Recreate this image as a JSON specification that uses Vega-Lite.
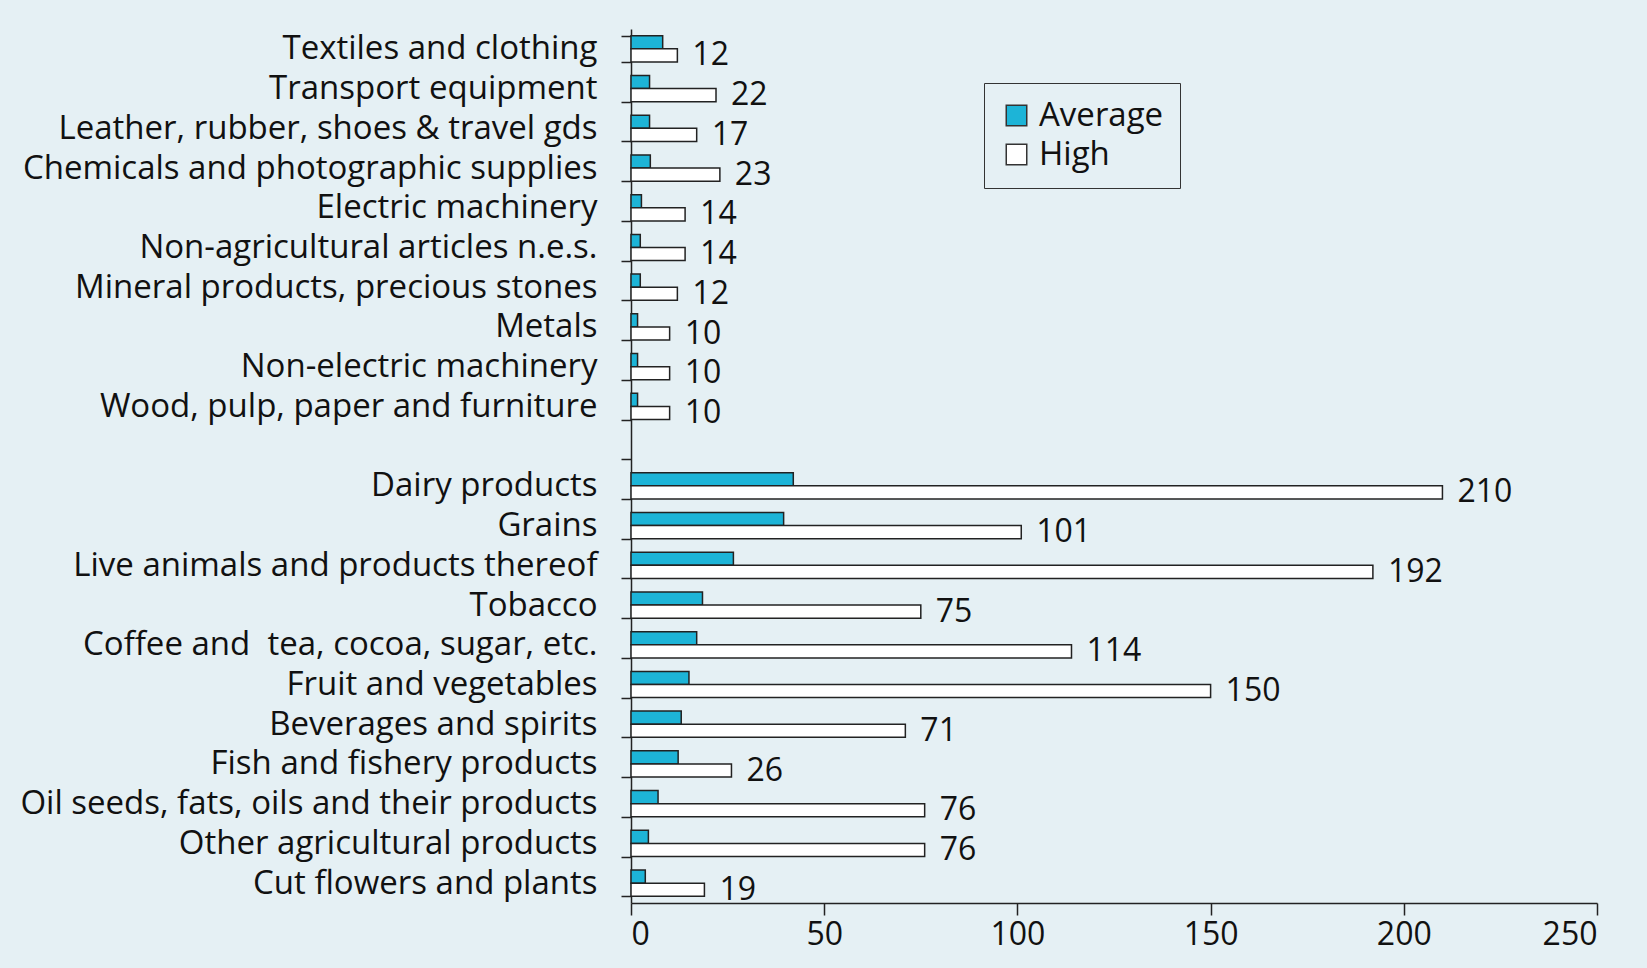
{
  "$schema": "https://vega.github.io/schema/vega-lite/v6.json",
  "autosize": "none",
  "width": 966,
  "height": 874,
  "padding": {"left": 631, "top": 29, "right": 50, "bottom": 65},
  "background": "#e5f0f4",
  "config": {"view": {"stroke": null}, "font": "Open Sans"},
  "data": {"values": [
    {"cat": "Textiles and clothing", "series": "Average", "value": 8.2},
    {"cat": "Textiles and clothing", "series": "High", "value": 12},
    {"cat": "Transport equipment", "series": "Average", "value": 4.8},
    {"cat": "Transport equipment", "series": "High", "value": 22},
    {"cat": "Leather, rubber, shoes & travel gds", "series": "Average", "value": 4.8},
    {"cat": "Leather, rubber, shoes & travel gds", "series": "High", "value": 17},
    {"cat": "Chemicals and photographic supplies", "series": "Average", "value": 5},
    {"cat": "Chemicals and photographic supplies", "series": "High", "value": 23},
    {"cat": "Electric machinery", "series": "Average", "value": 2.7},
    {"cat": "Electric machinery", "series": "High", "value": 14},
    {"cat": "Non-agricultural articles n.e.s.", "series": "Average", "value": 2.4},
    {"cat": "Non-agricultural articles n.e.s.", "series": "High", "value": 14},
    {"cat": "Mineral products, precious stones", "series": "Average", "value": 2.4},
    {"cat": "Mineral products, precious stones", "series": "High", "value": 12},
    {"cat": "Metals", "series": "Average", "value": 1.7},
    {"cat": "Metals", "series": "High", "value": 10},
    {"cat": "Non-electric machinery", "series": "Average", "value": 1.7},
    {"cat": "Non-electric machinery", "series": "High", "value": 10},
    {"cat": "Wood, pulp, paper and furniture", "series": "Average", "value": 1.7},
    {"cat": "Wood, pulp, paper and furniture", "series": "High", "value": 10},
    {"cat": "Dairy products", "series": "Average", "value": 42},
    {"cat": "Dairy products", "series": "High", "value": 210},
    {"cat": "Grains", "series": "Average", "value": 39.5},
    {"cat": "Grains", "series": "High", "value": 101},
    {"cat": "Live animals and products thereof", "series": "Average", "value": 26.5},
    {"cat": "Live animals and products thereof", "series": "High", "value": 192},
    {"cat": "Tobacco", "series": "Average", "value": 18.5},
    {"cat": "Tobacco", "series": "High", "value": 75},
    {"cat": "Coffee and\u00a0 tea, cocoa, sugar, etc.", "series": "Average", "value": 17},
    {"cat": "Coffee and\u00a0 tea, cocoa, sugar, etc.", "series": "High", "value": 114},
    {"cat": "Fruit and vegetables", "series": "Average", "value": 15},
    {"cat": "Fruit and vegetables", "series": "High", "value": 150},
    {"cat": "Beverages and spirits", "series": "Average", "value": 13},
    {"cat": "Beverages and spirits", "series": "High", "value": 71},
    {"cat": "Fish and fishery products", "series": "Average", "value": 12.2},
    {"cat": "Fish and fishery products", "series": "High", "value": 26},
    {"cat": "Oil seeds, fats, oils and their products", "series": "Average", "value": 7},
    {"cat": "Oil seeds, fats, oils and their products", "series": "High", "value": 76},
    {"cat": "Other agricultural products", "series": "Average", "value": 4.5},
    {"cat": "Other agricultural products", "series": "High", "value": 76},
    {"cat": "Cut flowers and plants", "series": "Average", "value": 3.7},
    {"cat": "Cut flowers and plants", "series": "High", "value": 19}
  ]},
  "encoding": {
    "y": {
      "field": "cat", "type": "nominal",
      "scale": {
        "domain": ["Textiles and clothing", "Transport equipment", "Leather, rubber, shoes & travel gds", "Chemicals and photographic supplies", "Electric machinery", "Non-agricultural articles n.e.s.", "Mineral products, precious stones", "Metals", "Non-electric machinery", "Wood, pulp, paper and furniture", " ", "Dairy products", "Grains", "Live animals and products thereof", "Tobacco", "Coffee and\u00a0 tea, cocoa, sugar, etc.", "Fruit and vegetables", "Beverages and spirits", "Fish and fishery products", "Oil seeds, fats, oils and their products", "Other agricultural products", "Cut flowers and plants"],
        "paddingInner": 0.34, "paddingOuter": 0.17
      },
      "axis": {
        "title": null, "tickBand": "extent", "tickSize": 10, "tickColor": "#222", "tickWidth": 1.5,
        "domainColor": "#222", "domainWidth": 1.5,
        "labelFontSize": 33, "labelColor": "#111", "labelPadding": 24, "labelLimit": 700
      }
    },
    "yOffset": {"field": "series", "type": "nominal", "sort": ["Average", "High"]},
    "x": {
      "field": "value", "type": "quantitative",
      "scale": {"domain": [0, 250], "nice": false},
      "axis": {
        "title": null, "values": [0, 50, 100, 150, 200, 250], "grid": false,
        "tickSize": 12, "tickColor": "#222", "tickWidth": 1.5,
        "domainColor": "#222", "domainWidth": 1.5,
        "labelFontSize": 32, "labelColor": "#111", "labelPadding": 4
      }
    }
  },
  "layer": [
    {
      "mark": {"type": "bar", "stroke": "#222", "strokeWidth": 1.5},
      "encoding": {
        "fill": {
          "field": "series", "type": "nominal",
          "scale": {"domain": ["Average", "High"], "range": ["#1db4d7", "#ffffff"]},
          "legend": {
            "title": null, "orient": "none", "legendX": 353, "legendY": 54,
            "strokeColor": "#333", "padding": 16, "symbolType": "square",
            "symbolSize": 420, "symbolStrokeColor": "#333", "symbolStrokeWidth": 1.5,
            "labelOffset": 6, "labelFontSize": 33, "labelColor": "#111", "rowPadding": 5
          }
        }
      }
    },
    {
      "transform": [{"filter": "datum.series === 'High'"}],
      "mark": {"type": "text", "align": "left", "baseline": "middle", "dx": 15, "fontSize": 32, "color": "#111"},
      "encoding": {"text": {"field": "value", "type": "quantitative"}}
    }
  ]
}
